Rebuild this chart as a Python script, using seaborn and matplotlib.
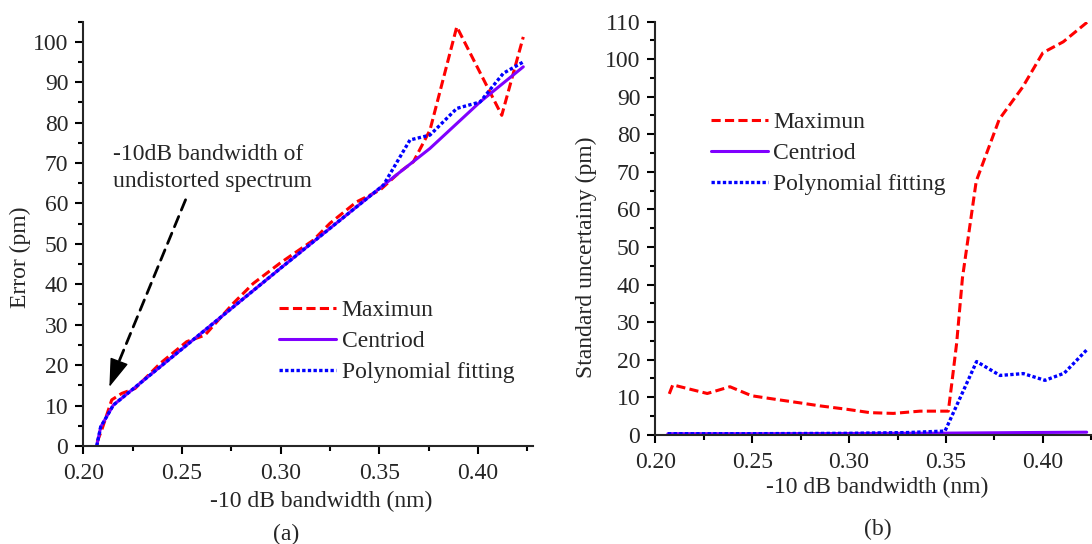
import matplotlib
matplotlib.use("Agg")
import matplotlib.pyplot as plt
from matplotlib.ticker import MultipleLocator
import seaborn as sns

# panel (a): error vs bandwidth
max_x_a = [0.2070, 0.2093, 0.2144, 0.2195, 0.2262, 0.2389, 0.2524, 0.2616, 0.2760, 0.2861,
           0.2996, 0.3165, 0.3250, 0.3385, 0.3503, 0.3604, 0.3672, 0.3756, 0.3892, 0.4120, 0.4229]
max_y_a = [1.0, 3.9, 11.4, 13.0, 14.2, 20.4, 25.8, 27.4, 35.3, 40.2,
           45.2, 50.9, 55.1, 60.4, 63.3, 67.8, 70.3, 78.1, 103.7, 81.8, 101.2]
cen_x_a = [0.2068, 0.2088, 0.2152, 0.2500, 0.3000, 0.3520, 0.3756, 0.4010, 0.4229]
cen_y_a = [0.0, 4.7, 10.1, 24.0, 44.0, 64.5, 73.6, 85.1, 93.8]
poly_x_a = [0.2068, 0.2088, 0.2152, 0.2500, 0.3000, 0.3520, 0.3655, 0.3756, 0.3892, 0.4010, 0.4128, 0.4229]
poly_y_a = [0.0, 4.7, 10.1, 24.0, 44.0, 64.5, 75.7, 76.9, 83.5, 85.1, 92.2, 95.0]

# panel (b): standard uncertainty vs bandwidth
max_x_b = [0.2072, 0.2090, 0.2268, 0.2385, 0.2497, 0.2626, 0.2747, 0.2850, 0.2988, 0.3108, 0.3228,
           0.3366, 0.3512, 0.3530, 0.3555, 0.3585, 0.3656, 0.3775, 0.3895, 0.4000, 0.4105, 0.4228]
max_y_b = [10.9, 13.3, 11.0, 12.8, 10.4, 9.4, 8.5, 7.7, 6.8, 5.9, 5.7,
           6.3, 6.3, 13.7, 24.4, 41.8, 67.5, 84.0, 92.5, 101.7, 104.6, 109.8]
cen_x_b = [0.2065, 0.2500, 0.3000, 0.3500, 0.3900, 0.4226]
cen_y_b = [0.3, 0.3, 0.35, 0.45, 0.6, 0.7]
poly_x_b = [0.2065, 0.2500, 0.3000, 0.3300, 0.3495, 0.3658, 0.3779, 0.3899, 0.4011, 0.4110, 0.4226]
poly_y_b = [0.3, 0.3, 0.4, 0.6, 1.0, 19.5, 15.8, 16.3, 14.5, 16.4, 22.6]

labels = ["Maximun", "Centriod", "Polynomial fitting"]

sns.set_style("ticks")
plt.rcParams['font.family'] = ['Liberation Serif', 'DejaVu Serif']
fs = 17

red = '#ff0000'
purple = '#8000ff'
blue = '#0000ff'
dash = (0, (3, 1.4))
dot = (0, (1, 0.7))

fig = plt.figure(figsize=(10.92, 5.44), dpi=100)
ax1 = fig.add_axes([0.0763, 0.1803, 0.4114, 0.7801])
ax2 = fig.add_axes([0.6001, 0.2007, 0.4039, 0.7597])


def draw(ax, mx, my, cx, cy, px, py):
    sns.lineplot(x=mx, y=my, ax=ax, color=red, linestyle=dash, linewidth=2.2, label=labels[0])
    sns.lineplot(x=cx, y=cy, ax=ax, color=purple, linewidth=2.2, label=labels[1])
    sns.lineplot(x=px, y=py, ax=ax, color=blue, linestyle=dot, linewidth=2.4, label=labels[2])


draw(ax1, max_x_a, max_y_a, cen_x_a, cen_y_a, poly_x_a, poly_y_a)
draw(ax2, max_x_b, max_y_b, cen_x_b, cen_y_b, poly_x_b, poly_y_b)

ax1.set_xlim(0.2, 0.4276)
ax1.set_ylim(0, 105)
ax2.set_xlim(0.2, 0.4276)
ax2.set_ylim(0, 110)

for ax in (ax1, ax2):
    ax.xaxis.set_major_locator(MultipleLocator(0.05))
    ax.xaxis.set_minor_locator(MultipleLocator(0.025))
    ax.yaxis.set_major_locator(MultipleLocator(10))
    ax.yaxis.set_minor_locator(MultipleLocator(5))
    ax.xaxis.set_major_formatter(plt.FormatStrFormatter('%.2f'))
    for s in ('top', 'right'):
        ax.spines[s].set_visible(False)
    for s in ('left', 'bottom'):
        ax.spines[s].set_linewidth(1.5)
    ax.tick_params(which='major', length=5.8, width=1.5, labelsize=fs, color='black')
    ax.tick_params(which='minor', length=3.6, width=1.5, color='black')
    ax.tick_params(axis='x', which='major', pad=6.3)
    ax.tick_params(axis='y', which='major', pad=5)
    ax.set_xlabel("-10 dB bandwidth (nm)", fontsize=fs)

ax1.set_ylabel("Error (pm)", fontsize=fs)
ax2.set_ylabel("Standard uncertainy (pm)", fontsize=fs)

ax1.xaxis.set_label_coords(0.529, -0.1308)
ax1.yaxis.set_label_coords(-0.139, 0.4456)
ax2.xaxis.set_label_coords(0.5035, -0.1275)
ax2.yaxis.set_label_coords(-0.157, 0.4307)
for ax in (ax1, ax2):
    ax.xaxis.label.set_va('center')
    ax.yaxis.label.set_va('center')

leg_kw = dict(frameon=False, fontsize=fs, handlelength=2.4, handletextpad=0.25,
              labelspacing=0.4, borderpad=0, borderaxespad=0, loc='upper left')
ax1.legend(bbox_to_anchor=(0.436, 0.344), **leg_kw)
ax2.legend(bbox_to_anchor=(0.126, 0.782), **leg_kw)

# annotation arrow in panel (a): dashed shaft, solid head
ax1.annotate("", xy=(0.2180, 20.8), xytext=(0.2518, 60.9),
             arrowprops=dict(arrowstyle='-', linestyle=(0, (4, 2.5)), lw=2, color='black',
                             shrinkA=0, shrinkB=0))
ax1.annotate("", xy=(0.2132, 14.6), xytext=(0.2180, 20.8),
             arrowprops=dict(arrowstyle='-|>,head_length=0.9,head_width=0.3', lw=1,
                             color='black', mutation_scale=20, shrinkA=0, shrinkB=0))
ax1.text(0.2148, 68.7, "-10dB bandwidth of\nundistorted spectrum", fontsize=fs,
         ha='left', va='center', linespacing=1.4)

fig.text(0.2622, 0.0176, "(a)", fontsize=fs, ha='center', va='center')
fig.text(0.8035, 0.0274, "(b)", fontsize=fs, ha='center', va='center')

fig.savefig("out.png", dpi=100)
